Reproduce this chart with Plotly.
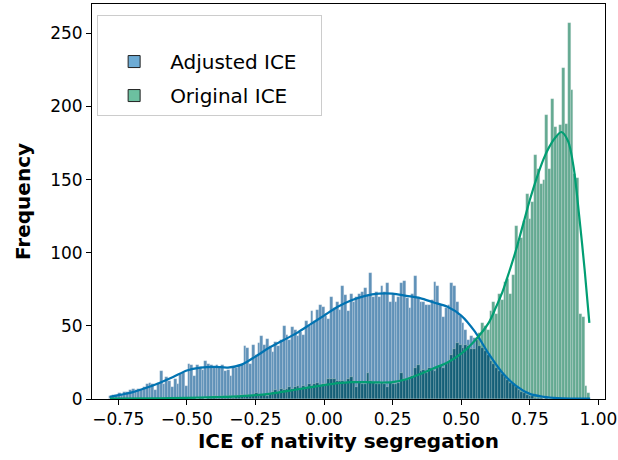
import numpy as np
import plotly.graph_objects as go

# ---------------- data ----------------
BIN_LO = -0.782
BIN_HI = 0.970

adjusted_counts = [
    2, 3, 3, 4, 3, 5, 5, 6, 7, 6,
    7, 6, 8, 10, 11, 10, 6, 11, 19, 10,
    15, 12, 8, 14, 10, 17, 18, 9, 24, 23,
    16, 23, 22, 20, 26, 24, 23, 22, 23, 21,
    23, 19, 20, 16, 22, 21, 23, 24, 36, 35,
    24, 37, 30, 38, 43, 37, 41, 36, 32, 39,
    36, 40, 50, 44, 40, 49, 47, 43, 46, 44,
    53, 50, 60, 53, 61, 64, 63, 57, 55, 70,
    62, 66, 61, 77, 71, 60, 72, 66, 70, 72,
    73, 76, 71, 86, 70, 73, 70, 77, 73, 79,
    66, 72, 66, 70, 79, 81, 69, 62, 72, 84,
    69, 66, 66, 64, 64, 68, 80, 77, 64, 56,
    62, 64, 79, 77, 66, 57, 52, 47, 40, 43,
    42, 40, 36, 35, 33, 30, 26, 24, 21, 19,
    17, 15, 13, 11, 10, 8, 6, 5, 4, 3,
    2, 2, 1, 1, 1, 0, 1, 0, 0, 0,
    0, 0, 0, 0, 0, 0, 0, 0, 0, 0,
    0, 0,
]

original_counts = [
    0, 0, 0, 0, 0, 0, 0, 0, 0, 0,
    1, 0, 0, 0, 0, 0, 0, 0, 1, 0,
    0, 0, 0, 0, 1, 0, 0, 1, 0, 1,
    1, 0, 1, 1, 0, 1, 1, 2, 1, 1,
    2, 1, 2, 2, 1, 2, 2, 3, 2, 3,
    2, 3, 4, 3, 3, 3, 2, 4, 5, 6,
    5, 7, 6, 7, 8, 7, 8, 9, 7, 9,
    8, 10, 9, 10, 11, 9, 10, 10, 14, 14,
    14, 12, 12, 12, 11, 14, 15, 12, 8, 11,
    10, 10, 18, 12, 11, 10, 10, 11, 10, 8,
    11, 10, 10, 11, 18, 14, 13, 15, 16, 21,
    23, 19, 20, 18, 21, 20, 19, 21, 23, 21,
    24, 26, 30, 34, 38, 37, 35, 37, 36, 34,
    34, 42, 45, 52, 50, 47, 60, 66, 58, 72,
    68, 80, 82, 72, 85, 118, 107, 110, 122, 140,
    123, 135, 167, 157, 147, 150, 194, 157, 205, 186,
    181, 187, 226, 188, 257, 211, 154, 151, 58, 56,
    9, 4,
]

kde_adjusted_x = [-0.78, -0.74, -0.70, -0.65, -0.60, -0.55, -0.50, -0.45, -0.40, -0.35,
                  -0.30, -0.25, -0.20, -0.15, -0.10, -0.05, 0.00, 0.05, 0.10, 0.15,
                  0.20, 0.25, 0.30, 0.35, 0.40, 0.45, 0.50, 0.55, 0.60, 0.65,
                  0.70, 0.75, 0.80, 0.85, 0.90, 0.97]
kde_adjusted_y = [1.5, 3, 4.5, 7.5, 11, 15, 19.5, 21.5, 22, 21.5,
                  23.5, 29, 35, 40, 45, 51, 57, 63, 67.5, 70.5,
                  72, 72, 70.5, 69, 66, 63, 57, 46, 31, 18,
                  9, 3.5, 1.5, 0.6, 0.3, 0.2]

kde_original_x = [-0.78, -0.60, -0.50, -0.40, -0.30, -0.20, -0.10, 0.00, 0.05, 0.10,
                  0.15, 0.20, 0.25, 0.30, 0.35, 0.40, 0.45, 0.50, 0.55, 0.60,
                  0.625, 0.65, 0.675, 0.70, 0.725, 0.75, 0.775, 0.80, 0.82, 0.84,
                  0.865, 0.89, 0.91, 0.93, 0.95, 0.967]
kde_original_y = [0.2, 0.4, 0.8, 1.3, 2, 3.5, 6.5, 9.5, 10.8, 11.5,
                  11.5, 11.3, 11.5, 13.5, 17, 21, 25, 31, 40, 52,
                  62, 73, 87, 102, 119, 136, 151, 164, 172, 178,
                  182.5, 176, 158, 125, 88, 52]

x_tick_values = [-0.75, -0.50, -0.25, 0.00, 0.25, 0.50, 0.75, 1.00]
x_tick_labels = ["\u22120.75", "\u22120.50", "\u22120.25", "0.00", "0.25", "0.50", "0.75", "1.00"]
y_tick_values = [0, 50, 100, 150, 200, 250]

series_names = ["Adjusted ICE", "Original ICE"]

# ---------------- derived ----------------
n_bins = len(adjusted_counts)
bin_w = (BIN_HI - BIN_LO) / n_bins
centers = BIN_LO + bin_w * (np.arange(n_bins) + 0.5)
adj = np.array(adjusted_counts, dtype=float)
org = np.array(original_counts, dtype=float)
overlap = np.minimum(adj, org)

BLUE_BAR = "#5F91B8"
GREEN_BAR = "#64AA91"
OVER_BAR = "#145F77"
EDGE = dict(color="rgba(225,230,235,0.45)", width=0.5)
FONT = "'DejaVu Sans', sans-serif"
PAD = "\u00a0\u00a0\u00a0"

fig = go.Figure()
fig.add_trace(go.Bar(x=centers, y=adj, width=bin_w, marker=dict(color=BLUE_BAR, line=EDGE),
                     showlegend=False, hoverinfo="skip"))
fig.add_trace(go.Bar(x=centers, y=org, width=bin_w, marker=dict(color=GREEN_BAR, line=EDGE),
                     showlegend=False, hoverinfo="skip"))
fig.add_trace(go.Bar(x=centers, y=overlap, width=bin_w, marker=dict(color=OVER_BAR, line=EDGE),
                     showlegend=False, hoverinfo="skip"))
fig.add_trace(go.Scatter(x=kde_adjusted_x, y=kde_adjusted_y, mode="lines",
                         line=dict(color="#0173B2", width=2.2, shape="spline", smoothing=0.8),
                         showlegend=False))
fig.add_trace(go.Scatter(x=kde_original_x, y=kde_original_y, mode="lines",
                         line=dict(color="#029E73", width=2.2, shape="spline", smoothing=0.8),
                         showlegend=False))
# legend entries
fig.add_trace(go.Bar(x=[None], y=[None], name=series_names[0] + PAD, legendgroup="adj",
                     marker=dict(color="#6DABD4", line=dict(color="#222222", width=1))))
fig.add_trace(go.Bar(x=[None], y=[None], name=series_names[1] + PAD, legendgroup="org",
                     marker=dict(color="#6CC0A0", line=dict(color="#222222", width=1))))

axis_common = dict(showline=True, linecolor="black", linewidth=1, mirror=True,
                   ticks="outside", ticklen=5, tickwidth=1, tickcolor="black",
                   showgrid=False, zeroline=False, automargin=False,
                   tickfont=dict(family=FONT, size=17, color="black"))

fig.update_layout(
    width=618, height=460,
    margin=dict(l=92, r=13, t=4, b=61),
    paper_bgcolor="white", plot_bgcolor="white",
    barmode="overlay", bargap=0,
    font=dict(family=FONT, color="black"),
    xaxis=dict(range=[-0.8455, 1.024], tickvals=x_tick_values, ticktext=x_tick_labels,
               title=dict(text="<b>ICE of nativity segregation</b>",
                          font=dict(family=FONT, size=20), standoff=5),
               **axis_common),
    yaxis=dict(range=[0, 270], tickvals=y_tick_values,
               title=dict(text="<b>Frequency</b>", font=dict(family=FONT, size=20), standoff=14),
               **axis_common),
    legend=dict(x=0.01, y=0.972, xanchor="left", yanchor="top",
                bgcolor="rgba(255,255,255,0.85)", bordercolor="#cccccc", borderwidth=1,
                font=dict(family=FONT, size=20, color="black"),
                title=dict(text=" ", font=dict(size=20)),
                itemwidth=62, tracegroupgap=5),
)

fig.write_html("out.html", config={"displayModeBar": False},
               post_script="document.body.style.margin='0';")
